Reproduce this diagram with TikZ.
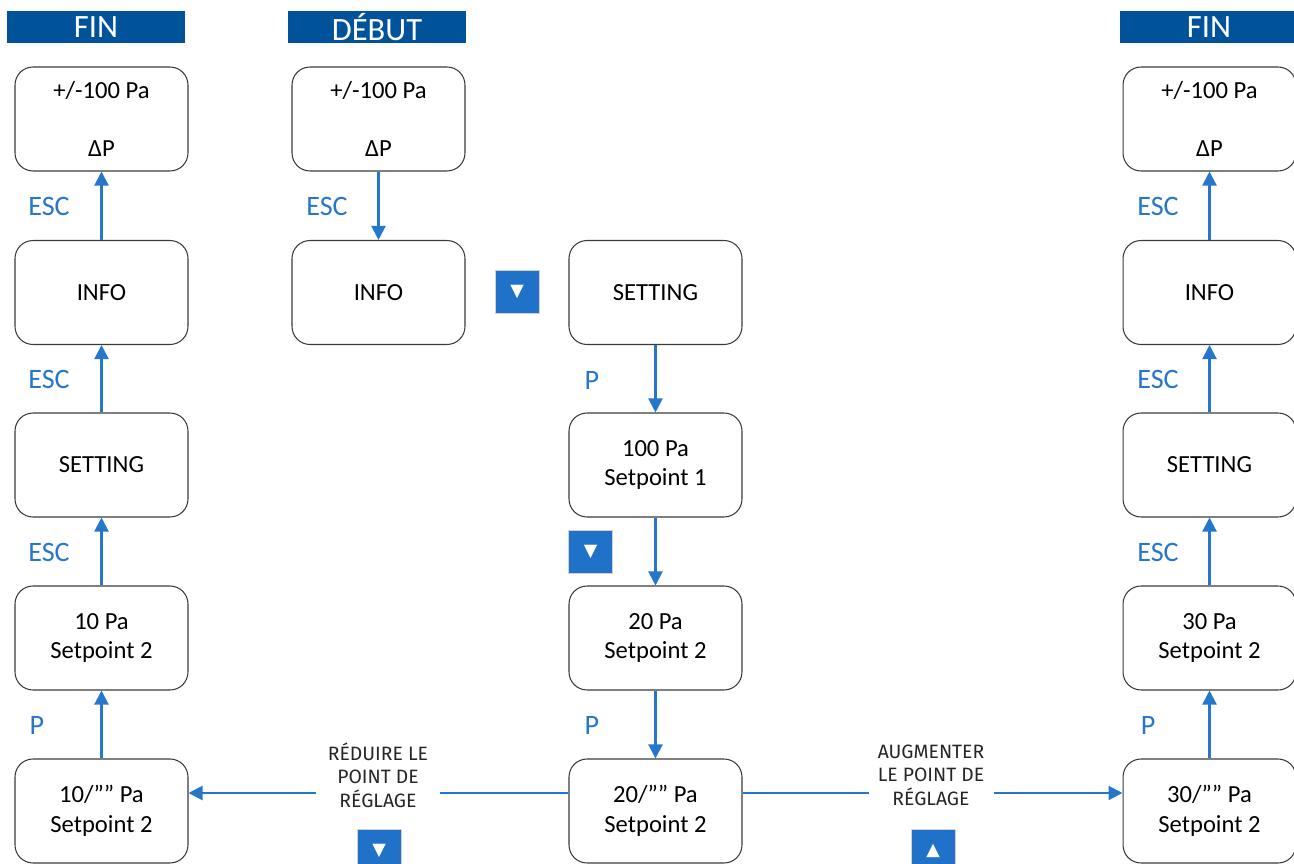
\documentclass[tikz,border=0pt]{standalone}
\usepackage{fontspec}
\setmainfont{Carlito}
\newfontfamily\capsfont{Fira Sans}
\newfontfamily\symbfont{DejaVu Sans}
\usetikzlibrary{arrows.meta}

\definecolor{headblue}{HTML}{00539B}
\definecolor{flowblue}{HTML}{2676CC}
\definecolor{keyblue}{HTML}{1F72C8}
\definecolor{boxgray}{HTML}{3A3A3A}

\begin{document}
\begin{tikzpicture}[x=0.02cm, y=-0.02cm,
    screen/.style={draw=boxgray, line width=0.6pt, rounded corners=0.36cm,
        minimum width=3.46cm, minimum height=2.08cm, align=center,
        font=\fontsize{14}{17}\selectfont},
    header/.style={fill=headblue, text=white, minimum width=3.56cm,
        minimum height=0.64cm, inner sep=0pt, font=\fontsize{18.5}{20}\selectfont},
    flow/.style={draw=flowblue, line width=1.2pt,
        -{Triangle[width=0.28cm,length=0.28cm]}},
    keyname/.style={text=flowblue, font=\fontsize{16}{18}\selectfont},
    button/.style={fill=keyblue, draw=gray!35, line width=0.5pt,
        minimum width=0.88cm, minimum height=0.86cm, inner sep=0pt,
        text=white, font=\symbfont\fontsize{10}{10}\selectfont},
    action/.style={fill=white, minimum width=2.5cm, inner sep=0pt, align=center,
        text=black!85, font=\capsfont\fontsize{11}{13.3}\selectfont}]

    \useasboundingbox (0,0) rectangle (1294,864);

    % drawing parameters (pixels)
    \def\colA{101.5} % left column
    \def\colB{378.5} % start column
    \def\colC{655.5} % setting column
    \def\colD{1209.5} % right column
    \def\rowA{119}
    \def\rowB{292.5}
    \def\rowC{465}
    \def\rowD{638}
    \def\rowE{811}

    % headers
    \node[header] (finL) at (96,27) {FIN};
    \node[header] (debut) at (377,27) {DÉBUT};
    \node[header] (finR) at (1209,27) {FIN};

    % left column
    \node[screen] (r1c1) at (\colA,\rowA) {+/-100 Pa\\[16pt]ΔP};
    \node[screen] (r2c1) at (\colA,\rowB) {INFO};
    \node[screen] (r3c1) at (\colA,\rowC) {SETTING};
    \node[screen] (r4c1) at (\colA,\rowD) {10 Pa\\Setpoint 2};
    \node[screen] (r5c1) at (\colA,\rowE) {10/”” Pa\\Setpoint 2};

    % start column
    \node[screen] (r1c2) at (\colB,\rowA) {+/-100 Pa\\[16pt]ΔP};
    \node[screen] (r2c2) at (\colB,\rowB) {INFO};

    % setting column
    \node[screen] (r2c3) at (\colC,\rowB) {SETTING};
    \node[screen] (r3c3) at (\colC,\rowC) {100 Pa\\Setpoint 1};
    \node[screen] (r4c3) at (\colC,\rowD) {20 Pa\\Setpoint 2};
    \node[screen] (r5c3) at (\colC,\rowE) {20/”” Pa\\Setpoint 2};

    % right column
    \node[screen] (r1c4) at (\colD,\rowA) {+/-100 Pa\\[16pt]ΔP};
    \node[screen] (r2c4) at (\colD,\rowB) {INFO};
    \node[screen] (r3c4) at (\colD,\rowC) {SETTING};
    \node[screen] (r4c4) at (\colD,\rowD) {30 Pa\\Setpoint 2};
    \node[screen] (r5c4) at (\colD,\rowE) {30/”” Pa\\Setpoint 2};

    % going up to the end
    \foreach \a/\b in {r5c1/r4c1, r4c1/r3c1, r3c1/r2c1, r2c1/r1c1,
                       r5c4/r4c4, r4c4/r3c4, r3c4/r2c4, r2c4/r1c4} {
        \draw[flow] (\a.north) -- (\b.south);
    }

    % going down from the start
    \foreach \a/\b in {r1c2/r2c2, r2c3/r3c3, r3c3/r4c3, r4c3/r5c3} {
        \draw[flow] (\a.south) -- (\b.north);
    }

    % change the setpoint
    \draw[flow] ([yshift=0.36cm]r5c3.west) -- ([yshift=0.36cm]r5c1.east);
    \draw[flow] ([yshift=0.36cm]r5c3.east) -- ([yshift=0.36cm]r5c4.west);
    \node[action] (lower) at (378,775) {RÉDUIRE LE\\POINT DE\\RÉGLAGE};
    \node[action] (raise) at (931,775) {AUGMENTER\\LE POINT DE\\RÉGLAGE};

    % key labels
    \node[keyname] (escA) at (49,206) {ESC};
    \node[keyname] (escB) at (49,379) {ESC};
    \node[keyname] (escC) at (49,552) {ESC};
    \node[keyname] (pA) at (37,725) {P};
    \node[keyname] (escD) at (327,206) {ESC};
    \node[keyname] (pB) at (592,380) {P};
    \node[keyname] (pC) at (592,725) {P};
    \node[keyname] (escE) at (1158,206) {ESC};
    \node[keyname] (escF) at (1158,379) {ESC};
    \node[keyname] (escG) at (1158,552) {ESC};
    \node[keyname] (pD) at (1148,725) {P};

    % buttons
    \node[button] (downA) at (517,292) {▼};
    \node[button] (downB) at (590.5,552) {▼};
    \node[button] (downC) at (379,851) {▼};
    \node[button] (upA) at (933,851) {▲};

\end{tikzpicture}
\end{document}
